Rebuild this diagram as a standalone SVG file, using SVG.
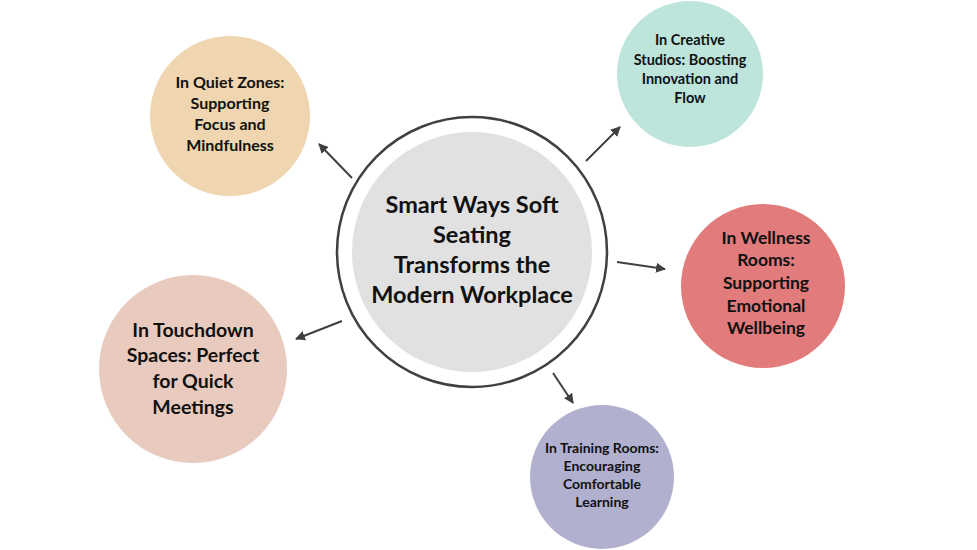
<svg xmlns="http://www.w3.org/2000/svg" width="977" height="550" viewBox="0 0 977 550">
<defs>
<marker id="ah" viewBox="0 0 10 10" refX="9" refY="5" markerWidth="5" markerHeight="5" orient="auto" markerUnits="strokeWidth">
<path d="M0,0 L10,5 L0,10 z" fill="#404040"/>
</marker>
<style>
text{font-family:"Lato","Liberation Sans",sans-serif;font-weight:bold;fill:#111;text-anchor:middle}
.cn{stroke:#404040;stroke-width:2;fill:none;marker-end:url(#ah)}
</style>
</defs>
<rect width="977" height="550" fill="#fff"/>
<g id="connectors">
<line class="cn" x1="352" y1="178" x2="319" y2="144"/>
<line class="cn" x1="586" y1="161" x2="620" y2="127"/>
<line class="cn" x1="617" y1="262" x2="665" y2="269"/>
<line class="cn" x1="342" y1="321" x2="296" y2="339"/>
<line class="cn" x1="553" y1="373" x2="573" y2="403"/>
</g>
<g id="center">
<circle cx="472" cy="252" r="135" fill="#fff" stroke="#404040" stroke-width="2.5"/>
<circle cx="472" cy="252" r="120" fill="#e1e1e1"/>
<text font-size="23.5"><tspan x="472" y="213">Smart Ways Soft</tspan><tspan x="472" y="243">Seating</tspan><tspan x="472" y="273">Transforms the</tspan><tspan x="472" y="303">Modern Workplace</tspan></text>
</g>
<g id="quiet">
<circle cx="230" cy="116" r="80" fill="#efd5b0"/>
<text font-size="16"><tspan x="230" y="88">In Quiet Zones:</tspan><tspan x="230" y="109">Supporting</tspan><tspan x="230" y="130">Focus and</tspan><tspan x="230" y="151">Mindfulness</tspan></text>
</g>
<g id="creative">
<circle cx="690" cy="74" r="73" fill="#bde5db"/>
<text font-size="14.5"><tspan x="690" y="45">In Creative</tspan><tspan x="690" y="65">Studios: Boosting</tspan><tspan x="690" y="84">Innovation and</tspan><tspan x="690" y="103">Flow</tspan></text>
</g>
<g id="wellness">
<circle cx="763" cy="286" r="82" fill="#e27c7c"/>
<text font-size="17.5"><tspan x="766" y="244">In Wellness</tspan><tspan x="766" y="266">Rooms:</tspan><tspan x="766" y="289">Supporting</tspan><tspan x="766" y="312">Emotional</tspan><tspan x="766" y="334">Wellbeing</tspan></text>
</g>
<g id="touchdown">
<circle cx="193" cy="369" r="94" fill="#e8cbbe"/>
<text font-size="19.5"><tspan x="193" y="337">In Touchdown</tspan><tspan x="193" y="362">Spaces: Perfect</tspan><tspan x="193" y="388">for Quick</tspan><tspan x="193" y="414">Meetings</tspan></text>
</g>
<g id="training">
<circle cx="602" cy="477" r="72" fill="#b2b0cf"/>
<text font-size="14"><tspan x="602" y="453">In Training Rooms:</tspan><tspan x="602" y="471">Encouraging</tspan><tspan x="602" y="489">Comfortable</tspan><tspan x="602" y="507">Learning</tspan></text>
</g>
</svg>
